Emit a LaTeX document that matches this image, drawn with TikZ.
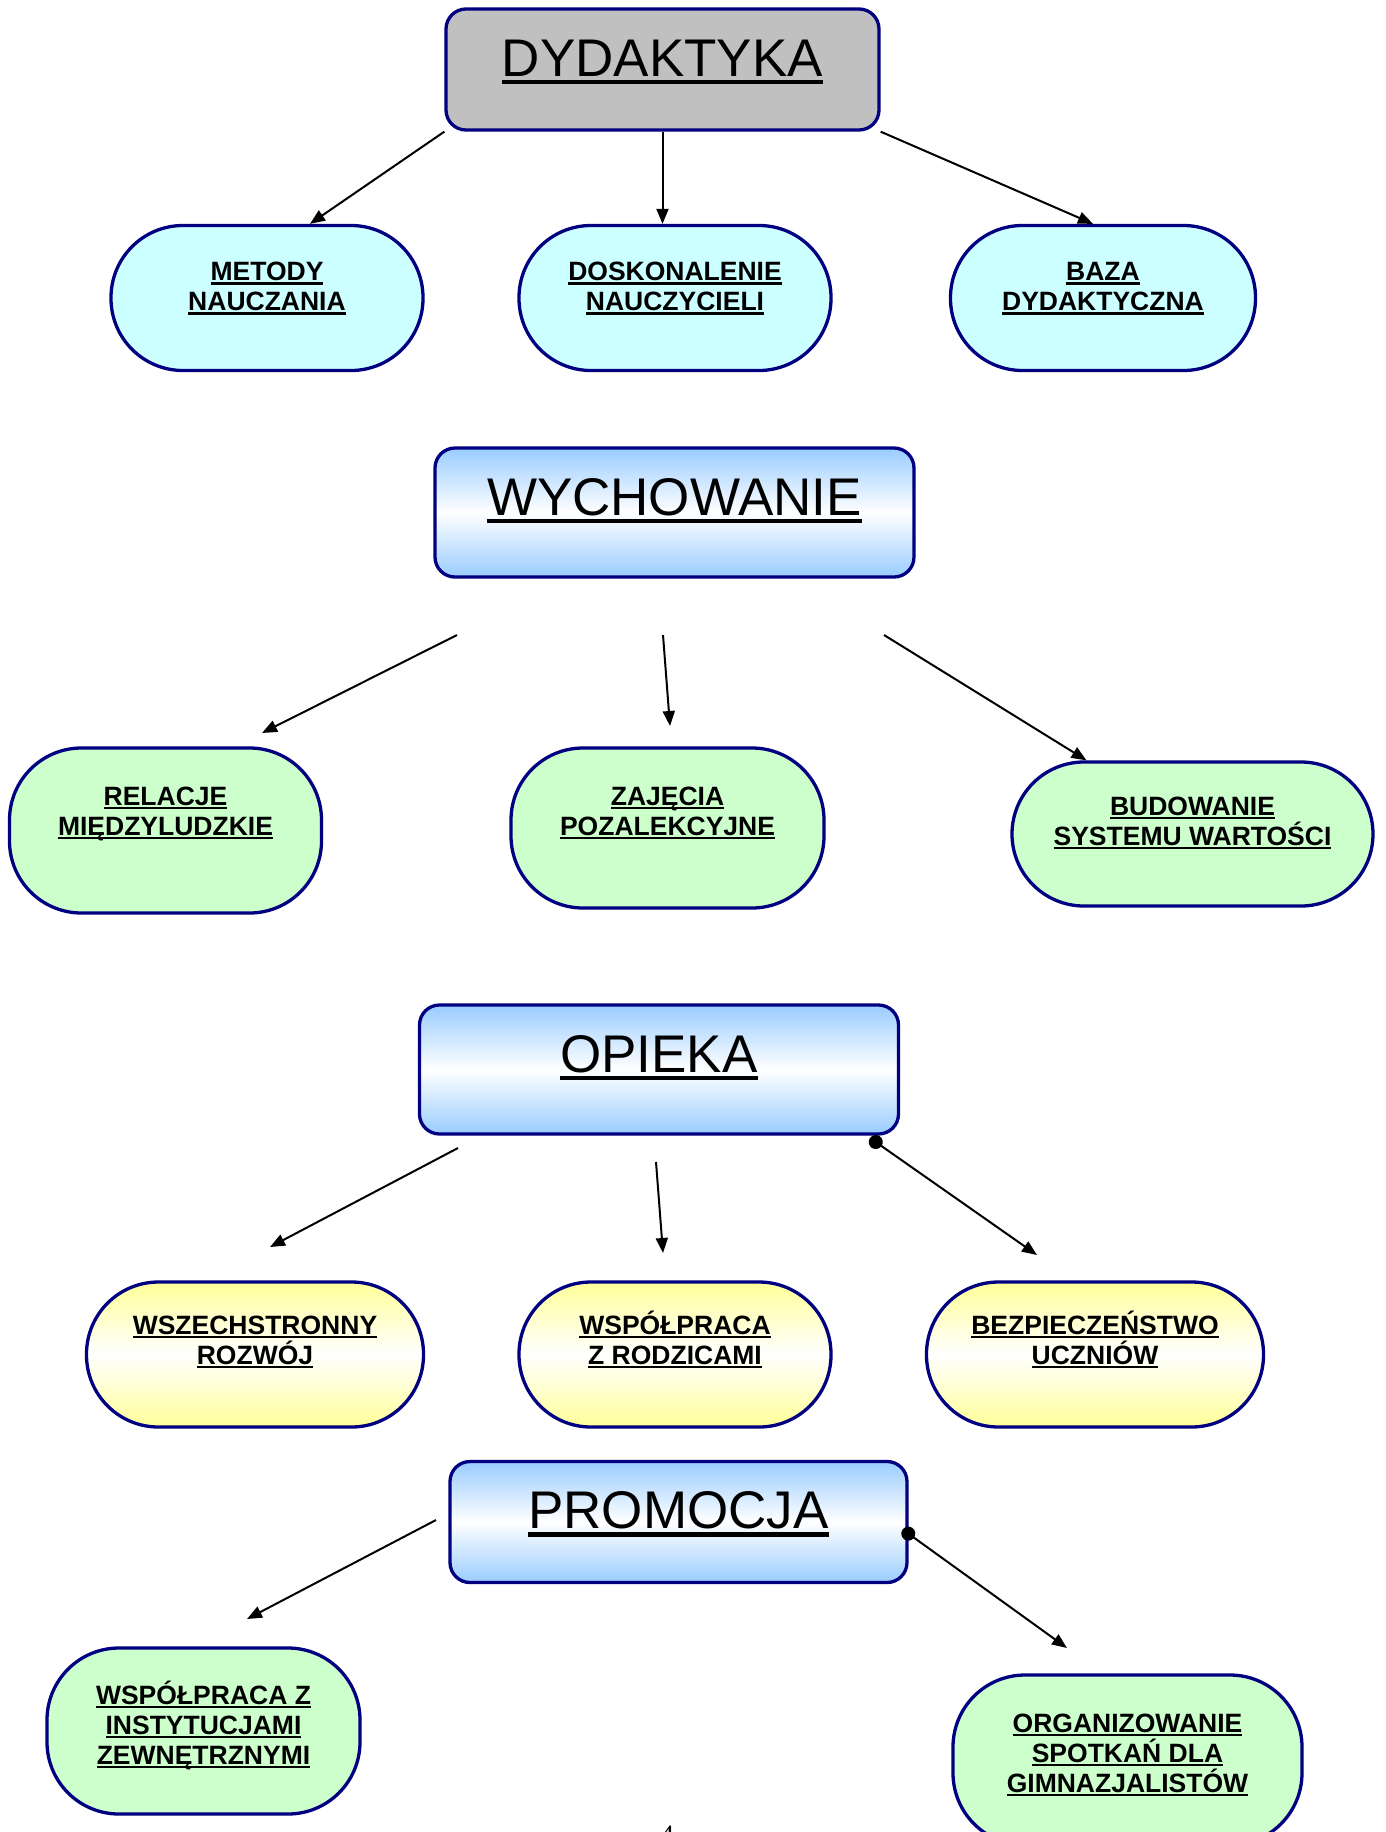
\documentclass[tikz,border=0pt]{standalone}
\usepackage{fontspec}
\setmainfont{Liberation Sans}
\newfontfamily\pagenumfont{Liberation Serif}
\usetikzlibrary{arrows.meta}

\definecolor{edgeblue}{RGB}{0,0,128}
\definecolor{boxgray}{RGB}{192,192,192}
\definecolor{skyfill}{RGB}{153,204,255}
\definecolor{cyanfill}{RGB}{204,255,255}
\definecolor{mintfill}{RGB}{204,255,204}
\definecolor{lemonfill}{RGB}{255,255,153}

\newcommand\ulwords[1]{\setbox0\hbox{#1}\rlap{\rule[-0.16em]{\wd0}{0.09em}}\box0}

\begin{document}
\begin{tikzpicture}[x={(1pt,0pt)},y={(0pt,-1pt)},>={Triangle[length=15pt,width=12pt]}]
 \tikzstyle{titlebox} = [draw=edgeblue,line width=3.3pt,rounded corners=20pt,inner sep=0pt,text height=67pt,font=\fontsize{53}{60}\selectfont]
 \tikzstyle{graybox} = [titlebox,fill=boxgray]
 \tikzstyle{bluebox} = [titlebox,top color=skyfill,bottom color=skyfill,middle color=white]
 \tikzstyle{bubble} = [draw=edgeblue,line width=3.3pt,rounded corners=72pt,inner sep=0pt,align=center,font=\fontsize{26.5}{30}\selectfont\bfseries]
 \tikzstyle{cyanbubble} = [bubble,fill=cyanfill]
 \tikzstyle{mintbubble} = [bubble,fill=mintfill]
 \tikzstyle{lemonbubble} = [bubble,top color=lemonfill,bottom color=lemonfill,middle color=white]
 \tikzstyle{conn} = [->,line width=2pt]
 \tikzstyle{dotconn} = [{Circle[length=14pt]}->,line width=2pt]

  \useasboundingbox (0,0) rectangle (1385,1832);

  % Headings
  \node[graybox,minimum width=433pt,text depth=54pt] (dyd)  at (662.5,69.5) {\ulwords{DYDAKTYKA}};
  \node[bluebox,minimum width=479pt,text depth=62pt] (wych) at (674.5,512.5) {\ulwords{WYCHOWANIE}};
  \node[bluebox,minimum width=479pt,text depth=62pt] (opie) at (659,1069.5) {\ulwords{OPIEKA}};
  \node[bluebox,minimum width=457pt,text depth=54pt] (prom) at (678.5,1522) {\ulwords{PROMOCJA}};

  % Dydaktyka
  \node[cyanbubble,minimum width=312pt,text height=85pt,text depth=60pt] (metody) at (267,298) {\ulwords{METODY}\\\ulwords{NAUCZANIA}};
  \node[cyanbubble,minimum width=312pt,text height=85pt,text depth=60pt] (dosk)   at (675,298) {\ulwords{DOSKONALENIE}\\\ulwords{NAUCZYCIELI}};
  \node[cyanbubble,minimum width=305pt,text height=85pt,text depth=60pt] (baza)   at (1103,298) {\ulwords{BAZA}\\\ulwords{DYDAKTYCZNA}};

  % Wychowanie
  \node[mintbubble,minimum width=312pt,text height=87pt,text depth=78pt] (relacje) at (165.5,830.5) {\ulwords{RELACJE}\\\ulwords{MIĘDZYLUDZKIE}};
  \node[mintbubble,minimum width=313pt,text height=87pt,text depth=73pt] (zajecia) at (667.5,828) {\ulwords{ZAJĘCIA}\\\ulwords{POZALEKCYJNE}};
  \node[mintbubble,minimum width=361pt,text height=83pt,text depth=61pt] (budow)   at (1192.5,834) {\ulwords{BUDOWANIE}\\\ulwords{SYSTEMU WARTOŚCI}};

  % Opieka
  \node[lemonbubble,minimum width=337pt,text height=82pt,text depth=63pt] (rozwoj)  at (255,1354.5) {\ulwords{WSZECHSTRONNY}\\\ulwords{ROZWÓJ}};
  \node[lemonbubble,minimum width=312pt,text height=82pt,text depth=63pt] (rodzice) at (675,1354.5) {\ulwords{WSPÓŁPRACA}\\\ulwords{Z RODZICAMI}};
  \node[lemonbubble,minimum width=337pt,text height=82pt,text depth=63pt] (bezp)    at (1095,1354.5) {\ulwords{BEZPIECZEŃSTWO}\\\ulwords{UCZNIÓW}};

  % Promocja
  \node[mintbubble,minimum width=313pt,text height=116pt,text depth=50pt] (instyt)  at (203.5,1731) {\ulwords{WSPÓŁPRACA Z}\\\ulwords{INSTYTUCJAMI}\\\ulwords{ZEWNĘTRZNYMI}};
  \node[mintbubble,minimum width=349pt,text height=117pt,text depth=53pt] (spotkan) at (1127.5,1760) {\ulwords{ORGANIZOWANIE}\\\ulwords{SPOTKAŃ DLA}\\\ulwords{GIMNAZJALISTÓW}};

  \node[font=\pagenumfont\fontsize{28}{30}\selectfont,anchor=base] (pagenum) at (667,1844) {4};

  % Free arrow ends
  \coordinate (w1) at (457,635);  \coordinate (w1e) at (262,733);
  \coordinate (w2) at (663,635);  \coordinate (w2e) at (670,726);
  \coordinate (w3) at (884,635);
  \coordinate (o1) at (458,1148); \coordinate (o1e) at (270,1247);
  \coordinate (o2) at (656,1162); \coordinate (o2e) at (663,1253);
  \coordinate (o3) at (870,1138); \coordinate (o3e) at (1037,1255);
  \coordinate (p1) at (436,1520); \coordinate (p1e) at (247,1619);
  \coordinate (p2e) at (1067,1648);

  % Arrows
  \draw[conn] (dyd.south west) -- ([xshift=43pt]metody.north);
  \draw[conn] (dyd.south) -- (dyd.south |- dosk.north);
  \draw[conn] (dyd.south east) -- ([xshift=-10pt]baza.north);

  \draw[conn] (w1) -- (w1e);
  \draw[conn] (w2) -- (w2e);
  \draw[conn] (w3) -- ([xshift=-106pt]budow.north);

  \draw[conn] (o1) -- (o1e);
  \draw[conn] (o2) -- (o2e);
  \draw[dotconn] (o3) -- (o3e);

  \draw[conn] (p1) -- (p1e);
  \draw[dotconn] ([xshift=-6pt,yshift=-7.5pt]prom.east) -- (p2e);

\end{tikzpicture}
\end{document}
